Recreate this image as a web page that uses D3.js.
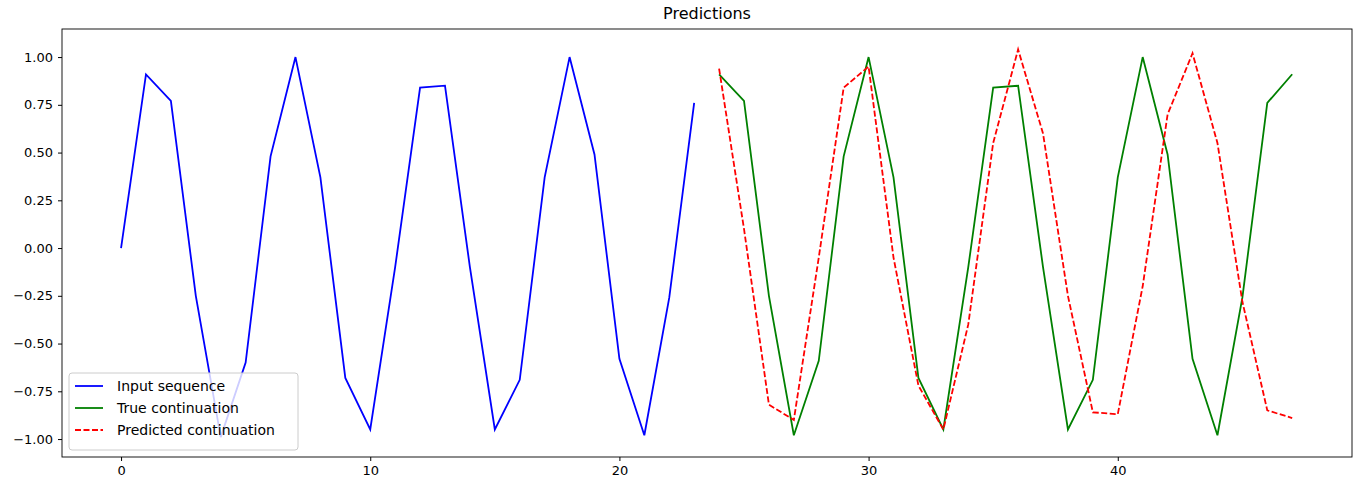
<!DOCTYPE html><html><head><meta charset="utf-8"><script src="https://cdn.jsdelivr.net/npm/d3@7"></script>
<style>body{margin:0;font-family:"DejaVu Sans",sans-serif;}</style></head><body><svg id="c" width="1358" height="485"></svg>
<script>
const inputVals=[0,0.909,0.77,-0.25,-0.99,-0.6,0.48,1.0,0.37,-0.68,-0.95,-0.1,0.84,0.85,-0.1,-0.95,-0.69,0.37,1.0,0.49,-0.58,-0.98,-0.26,0.76];
const trueVals=[0.91,0.77,-0.25,-0.98,-0.59,0.48,1.0,0.37,-0.68,-0.95,-0.1,0.84,0.85,-0.1,-0.95,-0.69,0.37,1.0,0.49,-0.58,-0.98,-0.26,0.76,0.91];
const predVals=[0.94,0.1,-0.82,-0.9,-0.05,0.84,0.95,-0.05,-0.72,-0.95,-0.4,0.55,1.04,0.6,-0.25,-0.86,-0.87,-0.2,0.7,1.02,0.55,-0.28,-0.85,-0.89];
const xTicks=[0,10,20,30,40];
const yTicks=[-1,-0.75,-0.5,-0.25,0,0.25,0.5,0.75,1];
const svg=d3.select("#c");
const L=62,R=1352,T=29,B=457;
const x=d3.scaleLinear().domain([-2.37,49.4]).range([L,R]);
const y=d3.scaleLinear().domain([-1.094,1.147]).range([B,T]);
const fmt=d=>d3.format(".2f")(d).replace("\u2212","-").replace("-","\u2212");
svg.append("g").attr("transform",`translate(0,${B})`).call(d3.axisBottom(x).tickValues(xTicks).tickSize(4).tickPadding(5)).call(g=>g.select(".domain").remove()).selectAll("text").attr("font-size",13).attr("font-family","DejaVu Sans");
svg.append("g").attr("transform",`translate(${L},0)`).call(d3.axisLeft(y).tickValues(yTicks).tickFormat(fmt).tickSize(4).tickPadding(5)).call(g=>g.select(".domain").remove()).selectAll("text").attr("font-size",13).attr("font-family","DejaVu Sans");
const line=d3.line().x(d=>x(d[0])).y(d=>y(d[1]));
svg.append("path").datum(inputVals.map((v,i)=>[i,v])).attr("d",line).attr("fill","none").attr("stroke","blue").attr("stroke-width",1.8);
svg.append("path").datum(trueVals.map((v,i)=>[i+24,v])).attr("d",line).attr("fill","none").attr("stroke","green").attr("stroke-width",1.8);
svg.append("path").datum(predVals.map((v,i)=>[i+24,v])).attr("d",line).attr("fill","none").attr("stroke","red").attr("stroke-width",1.8).attr("stroke-dasharray","6,2.5");
svg.append("rect").attr("x",L).attr("y",T).attr("width",R-L).attr("height",B-T).attr("fill","none").attr("stroke","black").attr("stroke-width",0.9);
svg.append("text").attr("x",(L+R)/2).attr("y",19).attr("text-anchor","middle").attr("font-size",16).text("Predictions");
const lg=svg.append("g").attr("transform","translate(69,373)");
lg.append("rect").attr("width",229).attr("height",77).attr("rx",3).attr("fill","white").attr("fill-opacity",0.8).attr("stroke","#ccc");
const items=[["Input sequence","blue",null],["True continuation","green",null],["Predicted continuation","red","6,2.5"]];
items.forEach((it,i)=>{const yy=13+i*22;
lg.append("line").attr("x1",6).attr("x2",34).attr("y1",yy).attr("y2",yy).attr("stroke",it[1]).attr("stroke-width",1.8).attr("stroke-dasharray",it[2]);
lg.append("text").attr("x",48).attr("y",yy+5).attr("font-size",14).text(it[0]);});
</script></body></html>
